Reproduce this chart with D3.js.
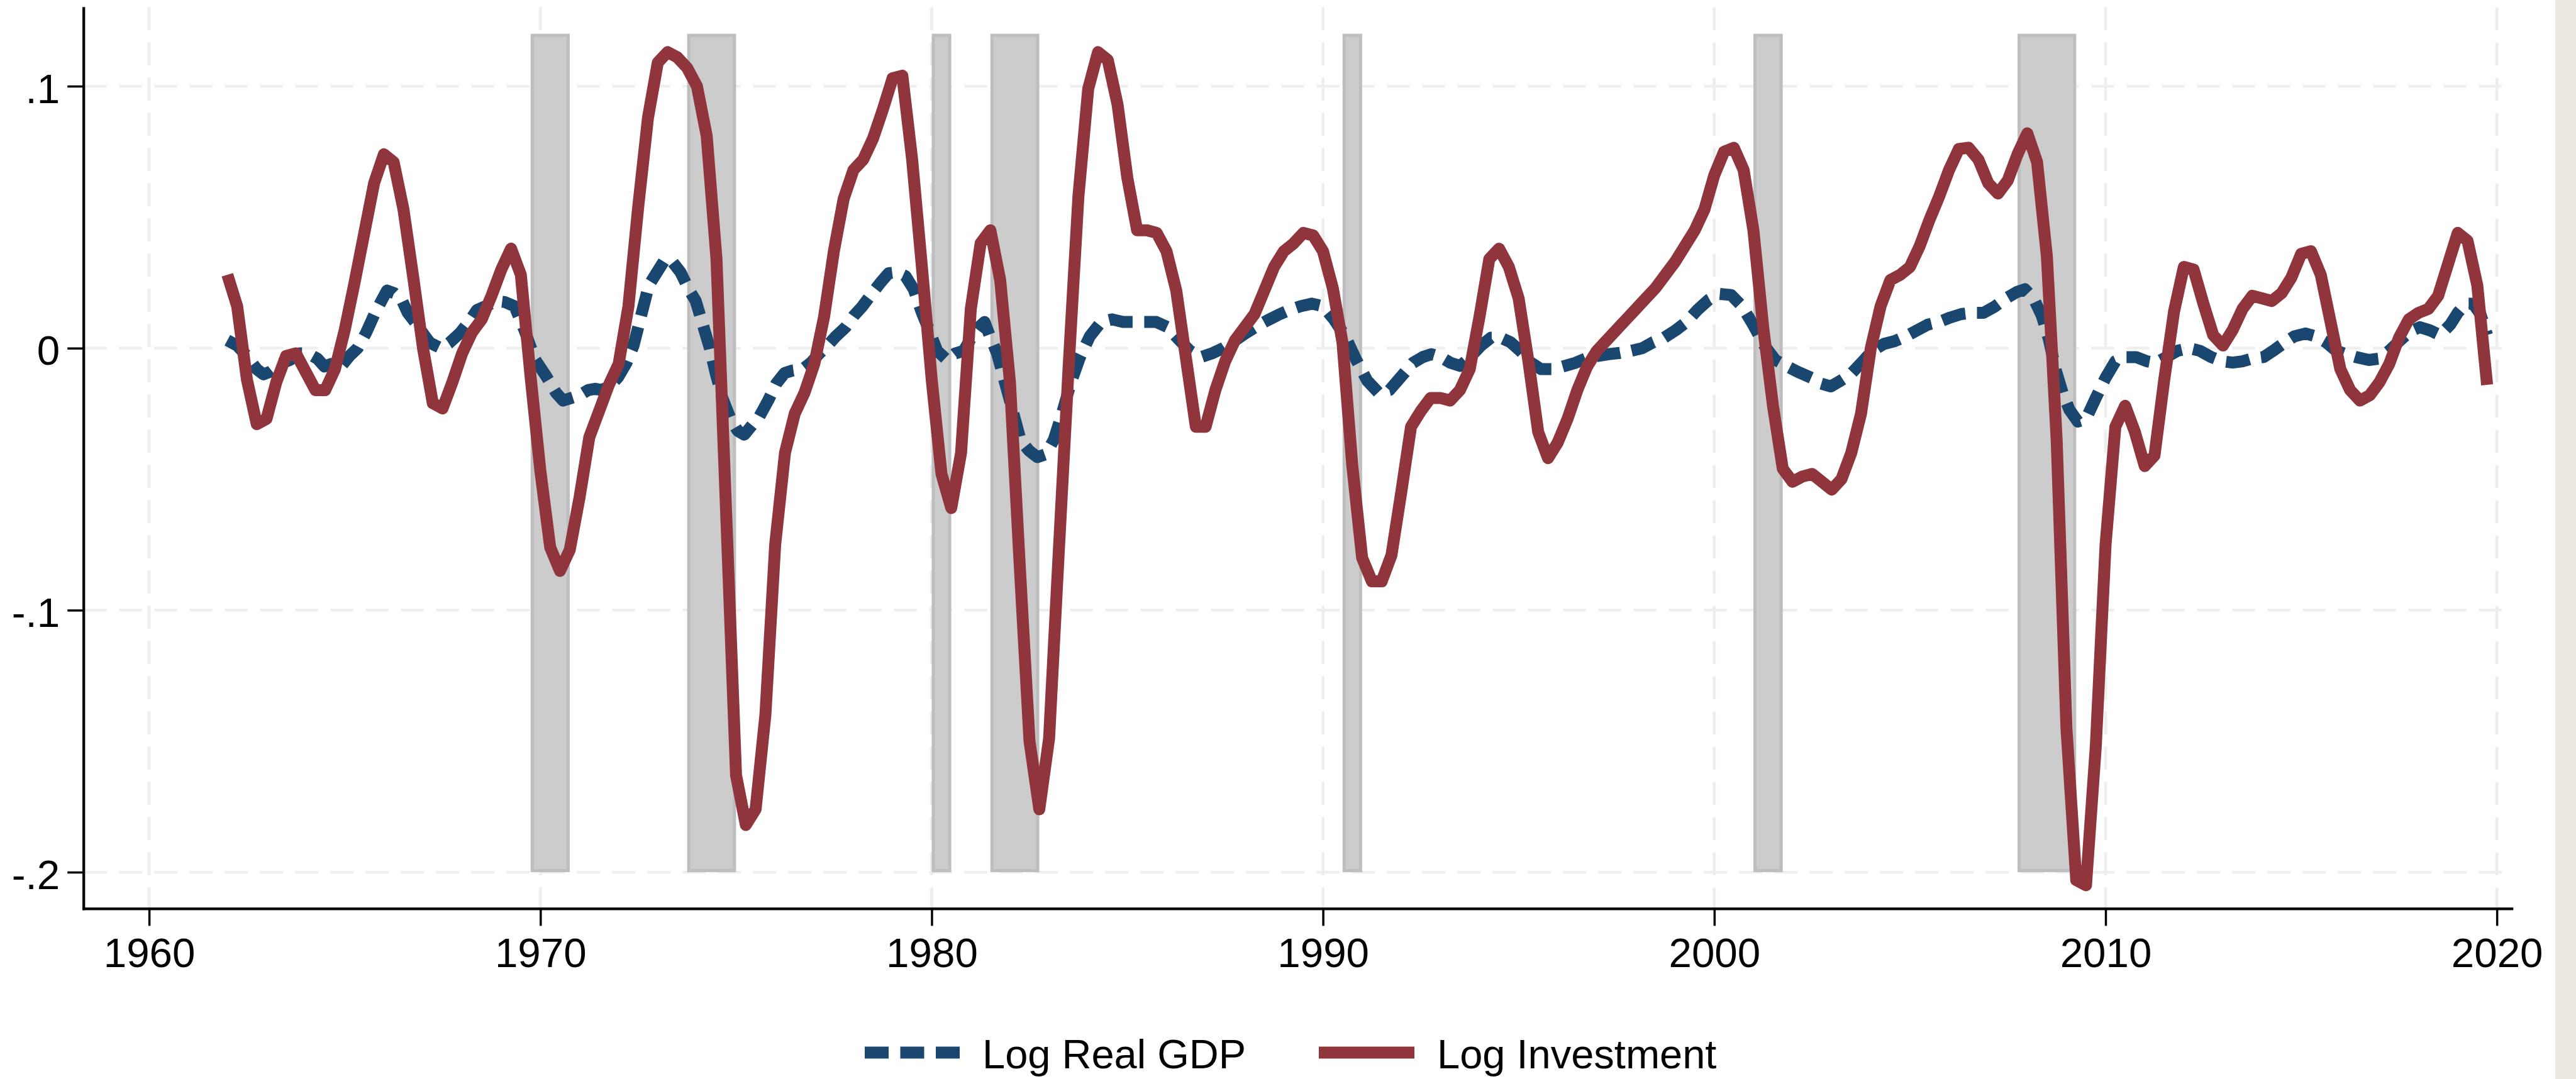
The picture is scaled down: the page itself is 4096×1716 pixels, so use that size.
<!DOCTYPE html>
<html>
<head>
<meta charset="utf-8">
<script src="https://cdn.jsdelivr.net/npm/d3@7"></script>
<style>
html,body{margin:0;padding:0;background:#ffffff;}
svg{display:block;}
</style>
</head>
<body>
<svg id="chart" width="4096" height="1716"></svg>
<script>
// ---------------- DATA ----------------
const seriesNames = ["Log Real GDP", "Log Investment"];

const invYears = [
1962.00,1962.25,1962.50,1962.75,1963.00,1963.25,1963.50,1963.75,1964.00,1964.25,1964.50,1964.75,
1965.00,1965.25,1965.50,1965.75,1966.00,1966.25,1966.50,1966.75,1967.00,1967.25,1967.50,1967.75,
1968.00,1968.25,1968.50,1968.75,1969.00,1969.25,1969.50,1969.75,1970.00,1970.25,1970.50,1970.75,
1971.00,1971.25,1971.50,1971.75,1972.00,1972.25,1972.50,1972.75,1973.00,1973.25,1973.50,1973.75,
1974.00,1974.25,1974.50,1974.75,1975.00,1975.25,1975.50,1975.75,1976.00,1976.25,1976.50,1976.75,
1977.00,1977.25,1977.50,1977.75,1978.00,1978.25,1978.50,1978.75,1979.00,1979.25,1979.50,1979.75,
1980.00,1980.25,1980.50,1980.75,1981.00,1981.25,1981.50,1981.75,1982.00,1982.25,1982.50,1982.75,
1983.00,1983.25,1983.50,1983.75,1984.00,1984.25,1984.50,1984.75,1985.00,1985.25,1985.50,1985.75,
1986.00,1986.25,1986.50,1986.75,1987.00,1987.25,1987.50,1987.75,1988.00,1988.25,1988.50,1988.75,
1989.00,1989.25,1989.50,1989.75,1990.00,1990.25,1990.50,1990.75,1991.00,1991.25,1991.50,1991.75,
1992.00,1992.25,1992.50,1992.75,1993.00,1993.25,1993.50,1993.75,1994.00,1994.25,1994.50,1994.75,
1995.00,1995.25,1995.50,1995.75,1996.00,1996.25,1996.50,1996.75,1997.00,1997.25,1997.50,1997.75,
1998.00,1998.25,1998.50,1998.75,1999.00,1999.25,1999.50,1999.75,2000.00,2000.25,2000.50,2000.75,
2001.00,2001.25,2001.50,2001.75,2002.00,2002.25,2002.50,2002.75,2003.00,2003.25,2003.50,2003.75,
2004.00,2004.25,2004.50,2004.75,2005.00,2005.25,2005.50,2005.75,2006.00,2006.25,2006.50,2006.75,
2007.00,2007.25,2007.50,2007.75,2008.00,2008.25,2008.50,2008.75,2009.00,2009.25,2009.50,2009.75,
2010.00,2010.25,2010.50,2010.75,2011.00,2011.25,2011.50,2011.75,2012.00,2012.25,2012.50,2012.75,
2013.00,2013.25,2013.50,2013.75,2014.00,2014.25,2014.50,2014.75,2015.00,2015.25,2015.50,2015.75,
2016.00,2016.25,2016.50,2016.75,2017.00,2017.25,2017.50,2017.75,2018.00,2018.25,2018.50,2018.75,
2019.00,2019.25,2019.50,2019.75
];
const invValues = [
0.028,0.016,-0.012,-0.029,-0.027,-0.013,-0.003,-0.002,-0.009,-0.016,-0.016,-0.008,
0.007,0.025,0.044,0.063,0.074,0.071,0.053,0.027,0.000,-0.021,-0.023,-0.013,
-0.002,0.006,0.011,0.020,0.030,0.038,0.028,-0.011,-0.047,-0.076,-0.085,-0.077,
-0.057,-0.034,-0.024,-0.014,-0.006,0.016,0.054,0.088,0.109,0.113,0.111,0.107,
0.100,0.081,0.034,-0.064,-0.163,-0.182,-0.176,-0.140,-0.075,-0.040,-0.025,-0.017,
-0.006,0.012,0.037,0.057,0.068,0.072,0.080,0.091,0.103,0.104,0.072,0.031,
-0.012,-0.048,-0.061,-0.040,0.015,0.040,0.045,0.026,-0.013,-0.083,-0.150,-0.176,
-0.149,-0.077,-0.007,0.058,0.099,0.113,0.110,0.093,0.065,0.045,0.045,0.044,
0.037,0.022,-0.004,-0.030,-0.030,-0.016,-0.005,0.003,0.008,0.013,0.022,0.031,
0.037,0.040,0.044,0.043,0.037,0.023,0.002,-0.045,-0.080,-0.089,-0.089,-0.079,
-0.055,-0.030,-0.024,-0.019,-0.019,-0.020,-0.016,-0.008,0.012,0.034,0.038,0.031,
0.019,-0.005,-0.032,-0.042,-0.036,-0.027,-0.016,-0.007,-0.001,0.003,0.007,0.011,
0.015,0.019,0.023,0.028,0.033,0.039,0.045,0.053,0.066,0.075,0.0765,0.068,
0.045,0.008,-0.022,-0.046,-0.051,-0.049,-0.048,-0.051,-0.054,-0.050,-0.040,-0.025,
0.000,0.016,0.026,0.028,0.031,0.039,0.049,0.058,0.068,0.076,0.0765,0.072,
0.063,0.059,0.064,0.074,0.082,0.071,0.035,-0.035,-0.145,-0.203,-0.205,-0.152,
-0.075,-0.030,-0.022,-0.032,-0.045,-0.041,-0.012,0.014,0.031,0.030,0.017,0.005,
0.001,0.007,0.015,0.020,0.019,0.018,0.021,0.027,0.036,0.037,0.028,0.010,
-0.008,-0.016,-0.020,-0.018,-0.013,-0.006,0.004,0.011,0.0135,0.015,0.020,0.032,
0.044,0.041,0.024,-0.014
];

const gdpYears = [
1962.00,1962.25,1962.50,1962.75,1962.92,1963.10,1963.35,1963.60,1963.84,1964.06,1964.30,1964.48,
1964.66,1964.90,1965.12,1965.33,1965.55,1965.76,1965.97,1966.08,1966.26,1966.47,1966.61,1966.79,
1967.00,1967.18,1967.46,1967.67,1967.96,1968.17,1968.38,1968.60,1968.88,1969.09,1969.34,1969.59,
1969.87,1970.16,1970.40,1970.58,1970.79,1971.00,1971.22,1971.40,1971.56,1971.77,1971.99,1972.20,
1972.38,1972.55,1972.77,1972.98,1973.19,1973.37,1973.58,1973.79,1973.97,1974.15,1974.33,1974.47,
1974.65,1974.86,1975.04,1975.21,1975.43,1975.60,1975.82,1976.03,1976.24,1976.45,1976.70,1976.91,
1977.13,1977.34,1977.55,1977.80,1978.01,1978.23,1978.48,1978.69,1978.90,1979.11,1979.33,1979.54,
1979.75,1979.93,1980.14,1980.39,1980.60,1980.82,1981.03,1981.21,1981.35,1981.49,1981.67,1981.88,
1982.09,1982.27,1982.48,1982.70,1982.91,1983.12,1983.33,1983.55,1983.79,1984.04,1984.33,1984.61,
1984.89,1985.18,1985.46,1985.74,1986.03,1986.31,1986.60,1986.88,1987.16,1987.45,1987.73,1988.01,
1988.30,1988.58,1988.87,1989.15,1989.43,1989.72,1990.00,1990.28,1990.57,1990.85,1991.13,1991.42,
1991.70,1991.99,1992.30,1992.55,1992.77,1993.01,1993.26,1993.51,1993.76,1994.04,1994.29,1994.54,
1994.79,1995.04,1995.32,1995.57,1995.89,1996.17,1996.45,1996.74,1997.02,1997.30,1997.59,1997.87,
1998.16,1998.44,1998.72,1999.01,1999.29,1999.57,1999.86,2000.14,2000.43,2000.71,2000.99,2001.28,
2001.56,2001.84,2002.13,2002.48,2002.73,2002.98,2003.23,2003.48,2003.76,2004.04,2004.33,2004.61,
2004.89,2005.18,2005.46,2005.74,2006.03,2006.31,2006.60,2006.88,2007.16,2007.45,2007.73,2007.94,
2008.16,2008.37,2008.55,2008.72,2008.90,2009.08,2009.29,2009.50,2009.75,2010.00,2010.25,2010.50,
2010.78,2011.06,2011.28,2011.56,2011.84,2012.13,2012.41,2012.70,2012.98,2013.25,2013.50,2013.74,
2014.04,2014.33,2014.59,2014.82,2015.11,2015.37,2015.63,2015.89,2016.15,2016.40,2016.73,2016.99,
2017.25,2017.51,2017.77,2018.03,2018.29,2018.55,2018.81,2019.00,2019.20,2019.39,2019.58,2019.75
];
const gdpValues = [
0.003,0.001,-0.003,-0.008,-0.010,-0.009,-0.006,-0.0045,-0.002,-0.002,-0.004,-0.007,
-0.006,-0.007,-0.003,0.000,0.006,0.013,0.019,0.022,0.021,0.018,0.0135,0.010,
0.0056,0.002,0.000,0.002,0.006,0.010,0.0146,0.016,0.018,0.0176,0.016,0.007,
-0.0045,-0.011,-0.017,-0.020,-0.019,-0.018,-0.016,-0.0155,-0.016,-0.0146,-0.011,-0.0056,
0.001,0.011,0.024,0.029,0.034,0.033,0.029,0.0225,0.018,0.009,0.000,-0.009,
-0.019,-0.027,-0.0315,-0.033,-0.029,-0.026,-0.020,-0.0135,-0.0095,-0.0085,-0.008,-0.0056,
-0.002,0.001,0.0045,0.008,0.0124,0.016,0.021,0.025,0.0286,0.029,0.0275,0.0225,
0.0135,0.007,-0.001,-0.0045,-0.002,-0.001,0.0045,0.008,0.010,0.0045,-0.002,-0.0135,
-0.025,-0.035,-0.039,-0.0416,-0.0405,-0.035,-0.025,-0.0135,-0.0034,0.0045,0.010,0.011,
0.010,0.010,0.010,0.010,0.008,0.0034,-0.001,-0.0034,-0.002,0.000,0.0027,0.0056,
0.0083,0.0106,0.0128,0.0146,0.016,0.017,0.016,0.011,0.0045,-0.0045,-0.0124,-0.017,
-0.016,-0.011,-0.0056,-0.0034,-0.0023,-0.0034,-0.0056,-0.0068,-0.0034,0.001,0.004,0.004,
0.0023,-0.001,-0.0056,-0.008,-0.008,-0.0068,-0.0056,-0.0038,-0.003,-0.0023,-0.0018,-0.001,
0.000,0.0023,0.004,0.0068,0.010,0.0146,0.0185,0.0207,0.0203,0.016,0.009,0.001,
-0.0045,-0.0068,-0.009,-0.0113,-0.0135,-0.0146,-0.0124,-0.010,-0.0056,-0.001,0.0016,0.0027,
0.0045,0.0068,0.009,0.010,0.0117,0.013,0.0135,0.0135,0.0158,0.019,0.0214,0.0225,
0.019,0.0124,0.0034,-0.008,-0.017,-0.0236,-0.028,-0.027,-0.019,-0.0113,-0.005,-0.0034,
-0.0034,-0.005,-0.0056,-0.0034,-0.001,0.000,-0.001,-0.0034,-0.005,-0.0055,-0.005,-0.004,
-0.0034,-0.0005,0.0023,0.0045,0.0056,0.0045,0.0023,-0.001,-0.0023,-0.0034,-0.0045,-0.004,
-0.001,0.0027,0.0063,0.008,0.0068,0.005,0.009,0.0135,0.017,0.017,0.013,0.005
];

// NBER recession shading (start, end)
const recStart = [1969.75, 1973.75, 1980.00, 1981.50, 1990.50, 2001.00, 2007.75];
const recEnd   = [1970.75, 1975.00, 1980.50, 1982.75, 1991.00, 2001.75, 2009.25];
const recTop = 0.12, recBottom = -0.2;

const xTicks = [1960, 1970, 1980, 1990, 2000, 2010, 2020];
const yTicks = [0.1, 0, -0.1, -0.2];
const yTickLabels = [".1", "0", "-.1", "-.2"];

// ---------------- LAYOUT ----------------
const W = 4096, H = 1716;
const plotLeft = 133.2, plotRight = 3996.3, plotTop = 11.2, plotBottom = 1445.4;
const colGDP = "#1A476F", colInv = "#90353B";
const font = "'Liberation Sans', Arial, Helvetica, sans-serif";

const svg = d3.select("#chart");
svg.append("rect").attr("x",0).attr("y",0).attr("width",W).attr("height",H).attr("fill","#ffffff");
svg.append("rect").attr("x",4063).attr("y",0).attr("width",W-4063).attr("height",H).attr("fill","#EDE9E0");

const x = d3.scaleLinear().domain([1958.33, 2020.42]).range([plotLeft, plotRight]);
const y = d3.scaleLinear().domain([-0.214, 0.1302]).range([plotBottom, plotTop]);

// grid
const grid = svg.append("g");
grid.selectAll("line.h").data(yTicks).enter().append("line")
  .attr("x1", plotLeft).attr("x2", plotRight)
  .attr("y1", d => y(d)).attr("y2", d => y(d))
  .attr("stroke", "#EEEEEE").attr("stroke-width", 4.3).attr("stroke-dasharray", "37,19");
grid.selectAll("line.v").data(xTicks).enter().append("line")
  .attr("x1", d => x(d)).attr("x2", d => x(d))
  .attr("y1", plotTop).attr("y2", plotBottom)
  .attr("stroke", "#EEEEEE").attr("stroke-width", 5).attr("stroke-dasharray", "37,19");

// recession bands
const sw = 5;
svg.append("g").selectAll("rect").data(recStart.map((s,i)=>[s, recEnd[i]])).enter().append("rect")
  .attr("x", d => x(d[0]) + sw/2)
  .attr("width", d => x(d[1]) - x(d[0]) - sw)
  .attr("y", y(recTop) + sw/2)
  .attr("height", y(recBottom) - y(recTop) - sw)
  .attr("fill", "#CCCCCC").attr("stroke", "#BEBEBE").attr("stroke-width", sw);

// lines
const gdpData = gdpYears.map((t,i)=>({t, v: gdpValues[i]}));
const invData = invYears.map((t,i)=>({t, v: invValues[i]}));
const line = d3.line().x(d => x(d.t)).y(d => y(d.v));

svg.append("path").datum(gdpData).attr("d", line)
  .attr("fill","none").attr("stroke", colGDP).attr("stroke-width", 19)
  .attr("stroke-dasharray","38,18.5").attr("stroke-linejoin","round").attr("stroke-linecap","butt");
svg.append("path").datum(invData).attr("d", line)
  .attr("fill","none").attr("stroke", colInv).attr("stroke-width", 19)
  .attr("stroke-linejoin","round").attr("stroke-linecap","butt");

// axes
const yAxis = svg.append("g").attr("transform", `translate(${plotLeft},0)`)
  .call(d3.axisLeft(y).tickValues(yTicks).tickSize(26).tickFormat((d,i)=>yTickLabels[i]));
yAxis.select(".domain").remove();
yAxis.selectAll(".tick line").attr("stroke","#000").attr("stroke-width",3.5);
yAxis.selectAll(".tick text").attr("x",-38).attr("dy","0.4em")
  .attr("font-family", font).attr("font-size", 65.5).attr("fill","#000").attr("text-anchor","end");

const xAxis = svg.append("g").attr("transform", `translate(0,${plotBottom})`)
  .call(d3.axisBottom(x).tickValues(xTicks).tickSize(27).tickFormat(d3.format("d")));
xAxis.select(".domain").remove();
xAxis.selectAll(".tick line").attr("stroke","#000").attr("stroke-width",3.5);
xAxis.selectAll(".tick text").attr("y", 92.6).attr("dy", 0)
  .attr("font-family", font).attr("font-size", 65.5).attr("fill","#000").attr("text-anchor","middle");

// axis lines
svg.append("line").attr("x1", plotLeft).attr("x2", plotLeft).attr("y1", plotTop).attr("y2", plotBottom + 2.15)
  .attr("stroke","#000").attr("stroke-width",4.3);
svg.append("line").attr("x1", plotLeft - 2.15).attr("x2", plotRight).attr("y1", plotBottom).attr("y2", plotBottom)
  .attr("stroke","#000").attr("stroke-width",4.3);

// legend
const leg = svg.append("g");
const legY = 1674, legBase = 1699;
const legItems = [
  {name: seriesNames[0], color: colGDP, dash: "38,18.5", x0: 1375, x1: 1526, tx: 1562},
  {name: seriesNames[1], color: colInv, dash: null, x0: 2097, x1: 2249, tx: 2285}
];
legItems.forEach(it => {
  const l = leg.append("line").attr("x1", it.x0).attr("x2", it.x1).attr("y1", legY).attr("y2", legY)
    .attr("stroke", it.color).attr("stroke-width", 19).attr("stroke-linecap","butt");
  if (it.dash) l.attr("stroke-dasharray", it.dash);
  leg.append("text").attr("x", it.tx).attr("y", legBase).text(it.name)
    .attr("font-family", font).attr("font-size", 65).attr("fill","#000");
});
</script>
</body>
</html>
